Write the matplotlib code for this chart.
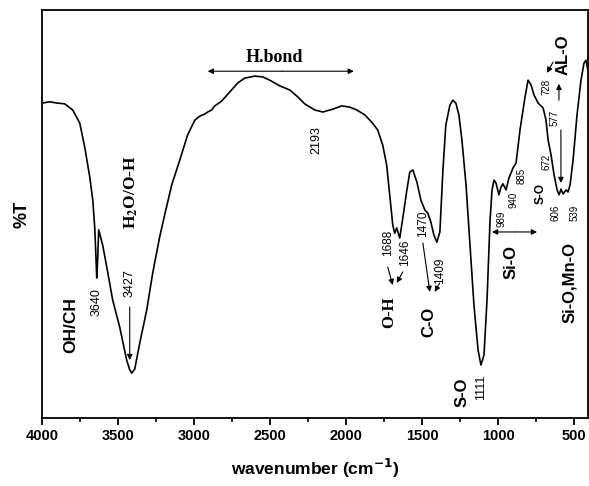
import matplotlib
matplotlib.use("Agg")
import matplotlib.pyplot as plt

# ---- data ----
wavenumber = [4000, 3949, 3903, 3851, 3798, 3752, 3719, 3686, 3666, 3653, 3647, 3640, 3634, 3627,
              3601, 3574, 3535, 3489, 3443, 3423, 3410, 3390, 3357, 3311, 3272, 3226, 3193, 3147,
              3094, 3042, 2995, 2962, 2930, 2910, 2884, 2864, 2844, 2818, 2765, 2713, 2667, 2601,
              2548, 2502, 2436, 2370, 2318, 2272, 2206, 2153, 2087, 2028, 1976, 1930, 1877, 1831,
              1792, 1759, 1733, 1713, 1693, 1680, 1667, 1647, 1627, 1600, 1581, 1561, 1534, 1508,
              1482, 1462, 1442, 1423, 1403, 1383, 1363, 1344, 1317, 1298, 1278, 1258, 1238, 1211,
              1185, 1159, 1132, 1113, 1093, 1073, 1053, 1040, 1027, 1014, 995, 981, 968, 948, 929,
              902, 882, 856, 823, 803, 783, 764, 737, 704, 685, 671, 652, 632, 612, 599, 586, 573,
              553, 540, 527, 507, 481, 455, 435, 422, 410]
transmittance = [77.2, 77.5, 77.2, 77.0, 75.5, 72.3, 66.4, 59.1, 53.4, 46.6, 41.2, 34.3, 38.7, 46.1,
                 42.4, 37.0, 28.9, 22.3, 14.2, 11.8, 11.0, 12.0, 18.4, 26.5, 35.5, 44.4, 49.8, 57.1,
                 63.2, 69.4, 73.0, 74.0, 74.5, 75.0, 75.5, 76.5, 77.0, 77.7, 79.9, 82.1, 83.3, 83.8,
                 83.6, 82.8, 81.4, 80.4, 78.7, 77.0, 75.5, 75.0, 75.7, 76.5, 76.2, 75.5, 74.3, 72.5,
                 70.6, 66.9, 62.0, 54.7, 47.3, 45.3, 46.6, 44.1, 49.0, 55.9, 60.3, 60.8, 57.8, 53.4,
                 51.0, 50.2, 48.0, 44.9, 43.1, 45.6, 60.8, 71.8, 76.7, 77.9, 77.2, 74.3, 68.1, 57.1,
                 42.4, 27.7, 16.7, 13.0, 15.4, 28.9, 48.5, 55.9, 58.3, 57.6, 54.7, 56.6, 57.4, 55.9, 58.8,
                 61.3, 62.5, 70.6, 78.7, 82.8, 81.6, 79.2, 77.2, 76.0, 73.0, 68.1, 64.5, 59.6, 55.9, 54.7, 56.1, 54.9,
                 55.9, 55.4, 57.1, 63.2, 74.3, 82.8, 87.0, 87.7, 85.3]
x_ticks = [4000, 3500, 3000, 2500, 2000, 1500, 1000, 500]
x_tick_labels = ["4000", "3500", "3000", "2500", "2000", "1500", "1000", "500"]

plt.rcParams['font.family'] = ['Liberation Sans', 'DejaVu Sans']

fig = plt.figure(figsize=(5.89, 4.86), dpi=100)
ax = fig.add_axes([0.0713, 0.1399, 0.9267, 0.8395])
ax.plot(wavenumber, transmittance, color='black', lw=1.2)
ax.set_xlim(4000, 410)
ax.set_ylim(0, 100)
ax.set_yticks([])
ax.set_xticks(x_ticks)
ax.set_xticklabels(x_tick_labels, fontsize=10.5, fontweight='bold')
ax.set_xticks([3750, 3250, 2750, 2250, 1750, 1250, 750], minor=True)
ax.tick_params(axis='x', which='major', direction='out', length=5, width=1.3, pad=3)
ax.tick_params(axis='x', which='minor', direction='out', length=3, width=1.2)
for s in ax.spines.values():
    s.set_linewidth(1.3)
ax.set_xlabel(r'wavenumber (cm$^{\mathbf{-1}}$)', fontsize=12.5, fontweight='bold', labelpad=10)
ax.set_ylabel('%T', fontsize=13, fontweight='bold', labelpad=8)

serif = ['Liberation Serif', 'DejaVu Serif']
def rot(x, y, s, size, weight='normal', family=None, **kw):
    ax.text(x, y, s, rotation=90, ha='center', va='center', fontsize=size,
            fontweight=weight, family=family if family else ['Liberation Sans', 'DejaVu Sans'], **kw)

def arrow(x0, y0, x1, y1, style='-|>', lw=0.8, ms=8):
    ax.annotate('', xy=(x1, y1), xytext=(x0, y0),
                arrowprops=dict(arrowstyle=style, color='black', lw=lw, mutation_scale=ms,
                                shrinkA=0, shrinkB=0))

# H.bond
ax.text(2469, 88.4, 'H.bond', ha='center', va='center', fontsize=13, fontweight='bold', family=serif)
arrow(2420, 85.0, 2910, 85.0)
arrow(2420, 85.0, 1949, 85.0)

rot(3410, 55.4, r'H$_{\mathbf{2}}$O/O-H', 12.5, 'bold', serif, math_fontfamily='stix')
rot(3814, 22.8, 'OH/CH', 12.5, 'bold')
rot(3640, 28.4, '3640', 9)
rot(3423, 33.1, '3427', 9)
arrow(3423, 27.2, 3423, 14.2)
rot(2198, 68.1, '2193', 9)

rot(1726, 42.9, '1688', 8.5)
rot(1614, 40.4, '1646', 8.5)
arrow(1726, 37.0, 1693, 32.6)
arrow(1627, 35.8, 1667, 33.1)
rot(1713, 26.0, 'O-H', 12, 'bold', serif)

rot(1495, 47.5, '1470', 8.5)
rot(1384, 36.0, '1409', 8.5)
arrow(1495, 42.9, 1449, 30.9)
arrow(1384, 33.1, 1417, 30.9)
rot(1456, 23.5, 'C-O', 12, 'bold')

rot(1238, 6.4, 'S-O', 12, 'bold')
rot(1113, 7.6, '1111', 9)

rot(917, 38.2, 'Si-O', 12, 'bold')
arrow(890, 45.6, 1040, 45.6)
arrow(890, 45.6, 744, 45.6)
rot(976, 48.8, '989', 7)
rot(897, 53.4, '940', 7)
rot(844, 59.3, '885', 7)
rot(719, 55.1, 'S-O', 8.5, 'bold')
rot(680, 62.7, '672', 7)
rot(620, 50.2, '606', 7)
rot(495, 50.2, '539', 7)
rot(528, 33.3, 'Si-O,Mn-O', 12, 'bold')

rot(680, 81.1, '728', 7)
rot(573, 89.0, 'AL-O', 12, 'bold')
arrow(639, 87.2, 679, 84.6)
rot(632, 73.5, '577', 7)
arrow(600, 77.9, 600, 81.9)
arrow(587, 70.6, 587, 57.6)

fig.savefig('out.png', dpi=100)
